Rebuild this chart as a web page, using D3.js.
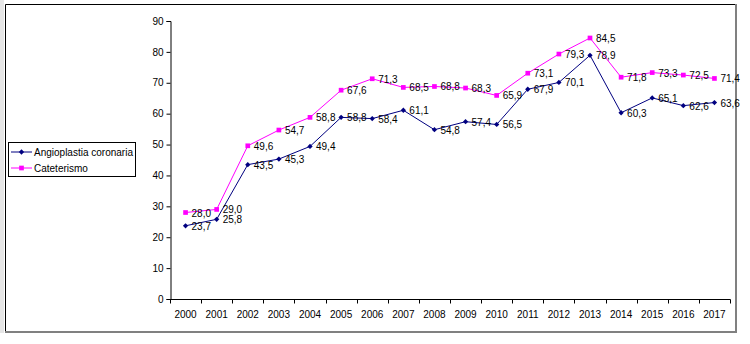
<!DOCTYPE html>
<html>
<head>
<meta charset="utf-8">
<script src="https://cdn.jsdelivr.net/npm/d3@7"></script>
<style>
  body { margin: 0; background: #fff; }
  svg { display: block; font-family: "Liberation Sans", Arial, sans-serif; }
</style>
</head>
<body>
<svg id="chart" width="750" height="344"></svg>
<script>
(function(){
  var years = ['2000','2001','2002','2003','2004','2005','2006','2007','2008',
               '2009','2010','2011','2012','2013','2014','2015','2016','2017']
  var angioplastia = [23.7, 25.8, 43.5, 45.3, 49.4, 58.8, 58.4, 61.1, 54.8,
                      57.4, 56.5, 67.9, 70.1, 78.9, 60.3, 65.1, 62.6, 63.6]
  var cateterismo = [28.0, 29.0, 49.6, 54.7, 58.8, 67.6, 71.3, 68.5, 68.8,
                     68.3, 65.9, 73.1, 79.3, 84.5, 71.8, 73.3, 72.5, 71.4]
  var yTicks = [0, 10, 20, 30, 40, 50, 60, 70, 80, 90]

  // regular (square-on-point) diamond, like Excel's marker
  var excelDiamond = {
    draw: function(ctx, size) {
      var r = Math.sqrt(size / 2)
      ctx.moveTo(0, -r); ctx.lineTo(r, 0); ctx.lineTo(0, r); ctx.lineTo(-r, 0); ctx.closePath()
    }
  }

  var series = [
    { name: 'Angioplastia coronaria', values: angioplastia, color: '#000080', shape: excelDiamond, size: 14 },
    { name: 'Cateterismo', values: cateterismo, color: '#ff00ff', shape: d3.symbolSquare, size: 22 }
  ]

  var svg = d3.select('#chart')

  // chart frame (shadowed right/bottom edges)
  svg.append('rect').attr('x', 0).attr('y', 0).attr('width', 4).attr('height', 333).attr('fill', '#e6e6e6')
  svg.append('line').attr('x1', 5.5).attr('x2', 736).attr('y1', 4.5).attr('y2', 4.5).attr('stroke', '#000')
  svg.append('line').attr('x1', 5.5).attr('x2', 5.5).attr('y1', 4.5).attr('y2', 332).attr('stroke', '#000')
  svg.append('line').attr('x1', 736).attr('x2', 736).attr('y1', 4).attr('y2', 333).attr('stroke', '#808080').attr('stroke-width', 2)
  svg.append('line').attr('x1', 5).attr('x2', 737).attr('y1', 332).attr('y2', 332).attr('stroke', '#808080').attr('stroke-width', 2)

  var left = 170, right = 730, top = 21, bottom = 299

  var x = d3.scaleBand().domain(years).range([left, right])
  var y = d3.scaleLinear().domain([0, 90]).range([bottom, top])
  var cx = function(i){ return x(years[i]) + x.bandwidth() / 2 }

  // y axis
  var yAxis = svg.append('g')
    .attr('transform', 'translate(' + (left + 0.5) + ',0)')
    .call(d3.axisLeft(y).tickValues(yTicks).tickSize(4).tickPadding(3))
  yAxis.select('.domain').attr('stroke', '#000')
  yAxis.selectAll('.tick line').attr('stroke', '#000')
  yAxis.selectAll('text').attr('font-size', '10px').attr('fill', '#000')
    .attr('font-family', '"Liberation Sans", Arial, sans-serif')

  // x axis: ticks between categories
  var xAxis = svg.append('g')
    .attr('transform', 'translate(0,' + (bottom + 0.5) + ')')
  xAxis.append('line').attr('x1', left).attr('x2', right + 0.5).attr('y1', 0).attr('y2', 0).attr('stroke', '#000')
  var bounds = years.map(function(d){ return x(d) }).concat([right])
  xAxis.selectAll('.xt').data(bounds).enter().append('line')
    .attr('x1', function(d){ return Math.round(d) + 0.5 })
    .attr('x2', function(d){ return Math.round(d) + 0.5 })
    .attr('y1', 0).attr('y2', 4).attr('stroke', '#000')
  xAxis.selectAll('.xl').data(years).enter().append('text')
    .text(function(d){ return d })
    .attr('x', function(d){ return x(d) + x.bandwidth() / 2 })
    .attr('y', 18)
    .attr('text-anchor', 'middle')
    .attr('font-size', '10px')

  var line = d3.line()
    .x(function(d, i){ return cx(i) })
    .y(function(d){ return y(d) })

  var fmt = function(v){ return v.toFixed(1).replace('.', ',') }

  // draw Cateterismo first so Angioplastia sits above where they touch
  series.slice().reverse().forEach(function(s){
    var g = svg.append('g')
    g.append('path')
      .attr('d', line(s.values))
      .attr('fill', 'none')
      .attr('stroke', s.color)
      .attr('stroke-width', 1)
    g.selectAll('path.mk').data(s.values).enter().append('path')
      .attr('class', 'mk')
      .attr('d', d3.symbol().type(s.shape).size(s.size))
      .attr('transform', function(d, i){ return 'translate(' + cx(i) + ',' + y(d) + ')' })
      .attr('fill', s.color)
  })

  // data labels, right of the points
  series.forEach(function(s){
    svg.append('g').selectAll('text').data(s.values).enter().append('text')
      .text(fmt)
      .attr('x', function(d, i){ return cx(i) + 6 })
      .attr('y', function(d){ return y(d) + 4 })
      .attr('font-size', '10px')
      .attr('fill', '#000')
  })

  // legend
  var lg = svg.append('g')
  lg.append('rect').attr('x', 8.5).attr('y', 142.5).attr('width', 127).attr('height', 34)
    .attr('fill', '#fff').attr('stroke', '#000')
  series.forEach(function(s, i){
    var ly = 152 + i * 16
    lg.append('line').attr('x1', 11).attr('x2', 32).attr('y1', ly).attr('y2', ly)
      .attr('stroke', s.color)
    lg.append('path')
      .attr('d', d3.symbol().type(s.shape).size(s.size))
      .attr('transform', 'translate(21.5,' + ly + ')')
      .attr('fill', s.color)
    lg.append('text').text(s.name)
      .attr('x', 34).attr('y', ly + 3.5)
      .attr('font-size', '10px')
  })
})()
</script>
</body>
</html>
